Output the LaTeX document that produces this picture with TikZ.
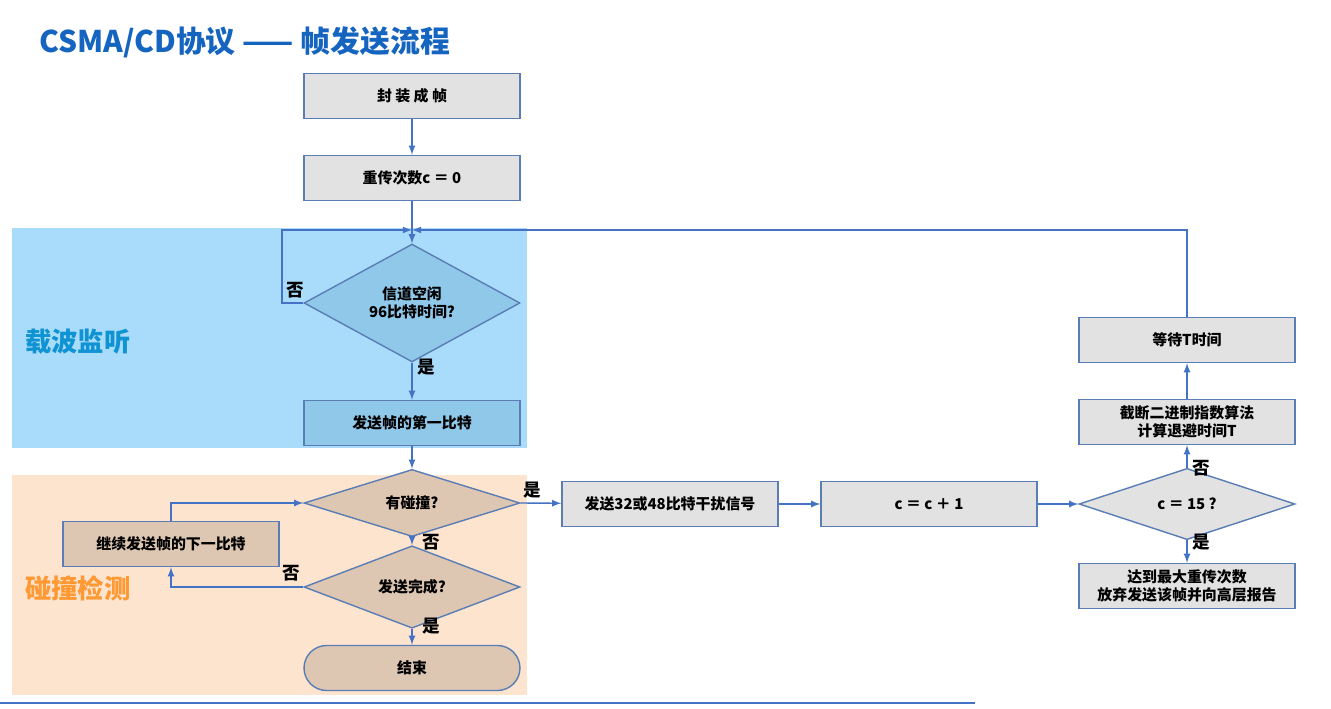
\documentclass[tikz,border=0pt]{standalone}
\usepackage{fontspec}
\setmainfont{Noto Sans CJK SC}
\usetikzlibrary{shapes.geometric,positioning}
\definecolor{pfeil}{HTML}{4472C4}
\definecolor{rand}{HTML}{5A7DB5}
\definecolor{grau}{HTML}{E2E2E2}
\definecolor{hblau}{HTML}{A8DCFA}
\definecolor{dblau}{HTML}{90C8EA}
\definecolor{horange}{HTML}{FCE4CF}
\definecolor{braun}{HTML}{DEC7B2}
\definecolor{titel}{HTML}{1565C0}
\begin{document}
\begin{tikzpicture}[x=0.02cm,y=-0.02cm,font=\bfseries\fontsize{8.5}{10}\selectfont]
	% Styles
	\tikzstyle{schritt}	= [rectangle, draw=rand, thick, fill=grau, minimum width=4.32cm, minimum height=0.9cm, align=center]
	\tikzstyle{frage}	= [diamond, draw=rand, thick, fill=grau, minimum width=4.32cm, minimum height=0.92cm, inner sep=0pt, align=center]
	\tikzstyle{pfeil}	= [thick, draw=pfeil, -latex]
	\tikzstyle{marke}	= [font=\bfseries\fontsize{10}{12}\selectfont]

	\useasboundingbox (0,0) rectangle (1331,709);
	\fill[white] (0,0) rectangle (1331,709);

	% Bereiche
	\fill[hblau] (12,228) rectangle (527,448);
	\fill[horange] (12,475) rectangle (527,695);
	\draw[pfeil, -, very thick] (0,703) -- (975,703);
	\node[font=\bfseries\fontsize{17}{20}\selectfont, text=titel, anchor=west] (titel) at (33,42) {CSMA/CD协议 —— 帧发送流程};
	\node[font=\bfseries\fontsize{15}{18}\selectfont, text=titel!70!cyan] (traeger) at (78,342) {载波监听};
	\node[font=\bfseries\fontsize{15}{18}\selectfont, text=orange!80] (kollision) at (78,588) {碰撞检测};

	% Linke Spalte
	\node[schritt] (rahmen) at (412,96) {封 装 成 帧};
	\node[schritt] (zaehler) at (412,178) {重传次数c ＝ 0};
	\node[frage, minimum height=2cm, fill=dblau] (frei) at (412,303) {信道空闲\\96比特时间?};
	\node[schritt, fill=dblau] (erstes) at (412,423) {发送帧的第一比特};
	\node[frage, fill=braun] (kollidiert) at (412,503) {有碰撞?};
	\node[frage, fill=braun] (fertig) at (412,587) {发送完成?};
	\node[schritt, fill=braun, rounded corners=0.45cm] (ende) at (412,668) {结束};
	\node[schritt, fill=braun] (weiter) at (171,544) {继续发送帧的下一比特};

	% Rechte Seite
	\node[schritt] (stoer) at (670,504) {发送32或48比特干扰信号};
	\node[schritt] (erhoehen) at (929,504) {c ＝ c ＋ 1};
	\node[frage] (grenze) at (1187,504) {c ＝ 15 ?};
	\node[schritt] (backoff) at (1187,422) {截断二进制指数算法\\计算退避时间T};
	\node[schritt] (warten) at (1187,340) {等待T时间};
	\node[schritt] (abbruch) at (1187,586) {达到最大重传次数\\放弃发送该帧并向高层报告};
	\coordinate (oben) at (412,230);

	% Pfeile
	\draw[pfeil] (rahmen) -- (zaehler);
	\draw[pfeil] (zaehler) -- (frei);
	\draw[pfeil] (frei.west) -- (282,303) -- (282,230) -- (oben);
	\draw[pfeil] (frei) -- (erstes);
	\draw[pfeil] (erstes) -- (kollidiert);
	\draw[pfeil] (kollidiert) -- (fertig);
	\draw[pfeil] (fertig) -- (ende);
	\draw[pfeil] (fertig.west) -- (171,587) -- (weiter.south);
	\draw[pfeil] (weiter.north) -- (171,503) -- (kollidiert.west);
	\draw[pfeil] (kollidiert.east) -- (stoer);
	\draw[pfeil] (stoer) -- (erhoehen);
	\draw[pfeil] (erhoehen) -- (grenze);
	\draw[pfeil] (grenze) -- (backoff);
	\draw[pfeil] (backoff) -- (warten);
	\draw[pfeil] (grenze) -- (abbruch);
	\draw[pfeil] (warten.north) -- (1187,230) -- (oben);

	% Beschriftungen
	\node[marke] at (295,290) {否};
	\node[marke] at (426,367) {是};
	\node[marke] at (431,542) {否};
	\node[marke] at (431,626) {是};
	\node[marke] at (291,573) {否};
	\node[marke] at (532,490) {是};
	\node[marke] at (1201,468) {否};
	\node[marke] at (1201,542) {是};
\end{tikzpicture}
\end{document}
